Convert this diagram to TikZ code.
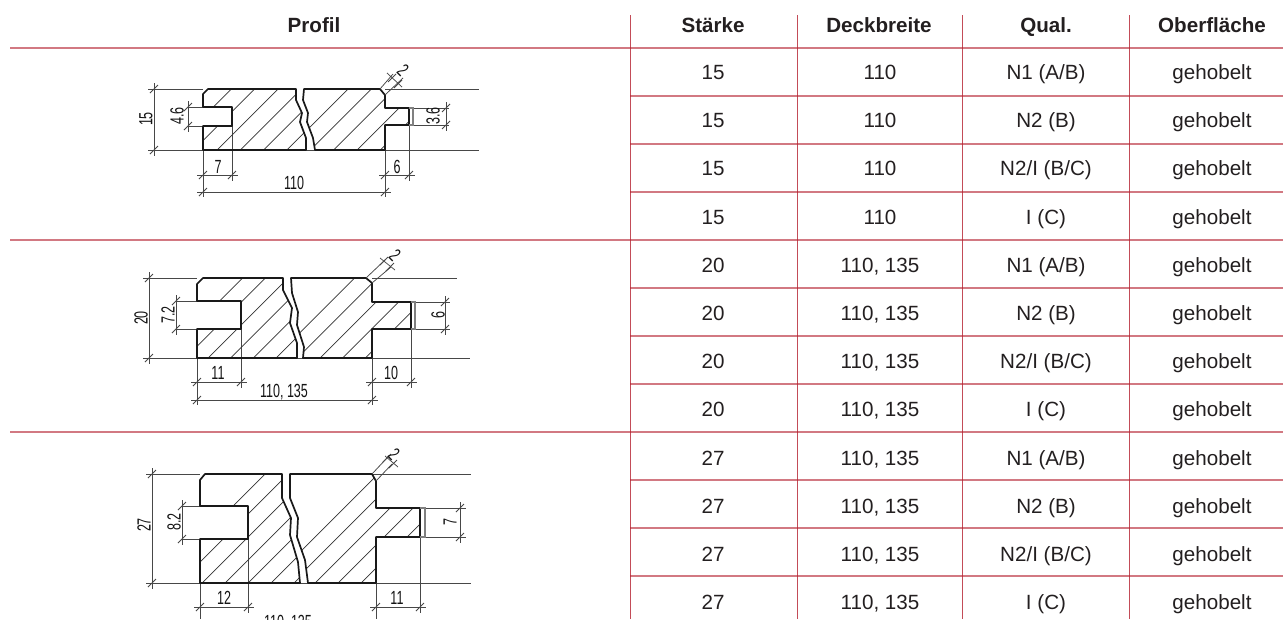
\documentclass[tikz,border=0pt]{standalone}
\usepackage{fontspec}
\setmainfont{Liberation Sans}
\newfontfamily\dimfont[FakeStretch=0.66]{Liberation Sans}
\definecolor{rulered}{HTML}{B5202F}
\definecolor{ink}{HTML}{231F20}
\tikzset{
  rulev/.style={draw=rulered,line width=1pt,opacity=.8},
  ruleh/.style={draw=rulered,line width=1.3pt,opacity=.6},
  cell/.style={font=\fontsize{20.6}{24}\selectfont,text=ink,inner sep=0pt,anchor=base},
  headcell/.style={cell,font=\fontsize{20.6}{24}\selectfont\bfseries},
  outline/.style={draw=black!90,line width=1.7pt,line join=round},
  hatchline/.style={draw=black!80,line width=0.7pt},
  dimline/.style={draw=black!72,line width=0.75pt},
  tongue/.style={draw=black!50,line width=1.1pt},
  dimlabel/.style={font=\dimfont\fontsize{19}{22}\selectfont,text=black!92,inner sep=0pt,anchor=center},
  vlabel/.style={dimlabel,rotate=90},
}
% tick at a dimension end
\newcommand{\dimtick}[2]{\draw[dimline] ({#1-4},{#2+4}) -- ({#1+4},{#2-4});}
\newcommand{\dimh}[3]{\draw[dimline] ({#1-6},#3) -- ({#2+6},#3); \dimtick{#1}{#3}\dimtick{#2}{#3}}
\newcommand{\dimv}[3]{\draw[dimline] (#1,{#2-6}) -- (#1,{#3+6}); \dimtick{#1}{#2}\dimtick{#1}{#3}}
% #1 path, #2 x+y constant, #3 spacing, #4 top, #5 bottom, #6 count
\newcommand{\hatched}[6]{%
  \begin{scope}
    \clip #1;
    \foreach \n in {0,...,#6}{
      \draw[hatchline] ({#2-#5+\n*#3-#3*2},#5) -- ({#2-#4+\n*#3-#3*2},#4);
    }
  \end{scope}
  \draw[outline] #1;
}
\begin{document}
\begin{tikzpicture}[x=1pt,y=-1pt]
\useasboundingbox (0,0) rectangle (1283,619);
\clip (0,0) rectangle (1283,619);
\fill[white] (0,0) rectangle (1283,619);

% table rules
\foreach \x in {630,797,962.7,1129.5}{\draw[rulev] (\x,15) -- (\x,619);}
\foreach \y in {48,240,432}{\draw[ruleh] (10,\y) -- (1283,\y);}
\foreach \y in {96,144,192,288,336,384,480,528,576}{\draw[ruleh] (630,\y) -- (1283,\y);}

% header
\node[headcell] (hprofil) at (314,32.5) {Profil};
\node[headcell] (hstaerke) at (713,32.5) {Stärke};
\node[headcell] (hdeck) at (879,32.5) {Deckbreite};
\node[headcell] (hqual) at (1046,32.5) {Qual.};
\node[headcell] (hober) at (1212,32.5) {Oberfläche};

% body
\foreach \y/\s/\d/\q in {
  79.5/15/{110}/{N1 (A/B)},127.5/15/{110}/{N2 (B)},175.5/15/{110}/{N2/I (B/C)},224/15/{110}/{I (C)},
  272.5/20/{110, 135}/{N1 (A/B)},320.5/20/{110, 135}/{N2 (B)},368.5/20/{110, 135}/{N2/I (B/C)},416.5/20/{110, 135}/{I (C)},
  465/27/{110, 135}/{N1 (A/B)},513/27/{110, 135}/{N2 (B)},561/27/{110, 135}/{N2/I (B/C)},609/27/{110, 135}/{I (C)}}{
  \node[cell] (s\y) at (713,\y) {\s};
  \node[cell] (d\y) at (880,\y) {\d};
  \node[cell] (q\y) at (1046,\y) {\q};
  \node[cell] (o\y) at (1212,\y) {gehobelt};
}

% ===== profile 15 =====
\draw[dimline] (148,89) -- (203,89) (385,89) -- (479,89) (148,150) -- (479,150);
\draw[dimline] (188,107) -- (203,107) (188,126) -- (203,126);
\draw[dimline] (413,108) -- (449,108) (413,125) -- (449,125);
\draw[dimline] (203,150) -- (203,197) (232,126) -- (232,181) (385,150) -- (385,197) (409,125) -- (409,181);
\hatched{(203,94) -- (208,89) -- (296,89) -- (296,100) -- (302,113) -- (300,122) -- (306,138) -- (306,150) -- (203,150) -- (203,126) -- (232,126) -- (232,107) -- (203,107) -- cycle}{367}{23.3}{89}{150}{8}
\hatched{(304,89) -- (303,100) -- (308,113) -- (307,122) -- (313,138) -- (315,150) -- (385,150) -- (385,125) -- (409,125) -- (409,108) -- (385,108) -- (385,95) -- (380,89) -- cycle}{483.7}{23.3}{89}{150}{8}
\draw[tongue] (409,108) -- (413,108) -- (413,125) -- (409,125);
\dimv{154}{89}{150}
\dimv{188}{107}{126}
\dimv{446}{108}{125}
\dimh{203}{232}{175}
\dimh{385}{409}{175}
\dimh{203}{385}{192}
\draw[dimline] (385,95) -- (403,78) (380,89) -- (393,74) (387,73) -- (402,87);
\dimtick{392}{78}\dimtick{398}{84}
\node[vlabel] (a15) at (146,119) {15};
\node[vlabel] (a46) at (177,116) {4.6};
\node[vlabel] (a36) at (433,116) {3.6};
\node[dimlabel] (a7) at (218,167) {7};
\node[dimlabel] (a6) at (397,167) {6};
\node[dimlabel] (a110) at (294,183) {110};
\node[dimlabel,rotate=-45] (a2) at (403,70) {2};

% ===== profile 20 =====
\draw[dimline] (143,278) -- (197,278) (372,278) -- (457,278) (143,358) -- (470,358);
\draw[dimline] (176,301) -- (197,301) (176,329) -- (197,329);
\draw[dimline] (415,302) -- (450,302) (415,329) -- (450,329);
\draw[dimline] (197,358) -- (197,405) (241,329) -- (241,388) (372,358) -- (372,405) (411,329) -- (411,388);
\hatched{(197,284) -- (203,278) -- (283,278) -- (283,290) -- (292,308) -- (290,323) -- (297,343) -- (297,358) -- (197,358) -- (197,329) -- (241,329) -- (241,301) -- (197,301) -- cycle}{566}{22.7}{278}{358}{9}
\hatched{(291,278) -- (292,293) -- (298,312) -- (297,325) -- (304,347) -- (303,358) -- (372,358) -- (372,329) -- (411,329) -- (411,302) -- (372,302) -- (372,283) -- (366,278) -- cycle}{678}{22.7}{278}{358}{9}
\draw[tongue] (411,302) -- (415,302) -- (415,329) -- (411,329);
\dimv{149}{278}{358}
\dimv{176}{301}{329}
\dimv{445}{302}{329}
\dimh{197}{241}{382}
\dimh{372}{411}{382}
\dimh{197}{372}{400}
\draw[dimline] (372,283) -- (391,267) (366,278) -- (385,260) (380,258) -- (395,270);
\dimtick{384}{261}\dimtick{390}{267}
\node[vlabel] (b20) at (141,318) {20};
\node[vlabel] (b72) at (168,315) {7.2};
\node[vlabel] (b6) at (438,315) {6};
\node[dimlabel] (b11) at (218,373) {11};
\node[dimlabel] (b10) at (391,373) {10};
\node[dimlabel] (b110) at (284,392) {110, 135};
\node[dimlabel,rotate=-45] (b2) at (395,255) {2};

% ===== profile 27 =====
\draw[dimline] (146,474) -- (200,474) (372,474) -- (471,474) (146,583) -- (471,583);
\draw[dimline] (182,506) -- (200,506) (182,539) -- (200,539);
\draw[dimline] (425,508) -- (466,508) (425,537) -- (466,537);
\draw[dimline] (200,583) -- (200,619) (248,539) -- (248,613) (376,583) -- (376,619) (420,537) -- (420,613);
\hatched{(200,480) -- (205,474) -- (282,474) -- (282,498) -- (291,518) -- (290,535) -- (298,562) -- (300,583) -- (200,583) -- (200,539) -- (248,539) -- (248,506) -- (200,506) -- cycle}{785}{23}{474}{583}{10}
\hatched{(290,474) -- (290,498) -- (298,518) -- (297,537) -- (305,560) -- (308,583) -- (376,583) -- (376,537) -- (420,537) -- (420,508) -- (376,508) -- (376,481) -- (372,474) -- cycle}{898}{23}{474}{583}{10}
\draw[tongue] (420,508) -- (425,508) -- (425,537) -- (420,537);
\dimv{152}{474}{583}
\dimv{182}{506}{539}
\dimv{460}{508}{537}
\dimh{200}{248}{607}
\dimh{376}{420}{607}
\draw[dimline] (376,481) -- (392,464) (372,474) -- (386,459) (385,456) -- (398,467);
\dimtick{387}{458}\dimtick{393}{464}
\node[vlabel] (c27) at (144,525) {27};
\node[vlabel] (c82) at (174,522) {8.2};
\node[vlabel] (c7) at (450,522) {7};
\node[dimlabel] (c12) at (224,598) {12};
\node[dimlabel] (c11) at (397,598) {11};
\node[dimlabel] (c110) at (288,623) {110, 135};
\node[dimlabel,rotate=-45] (c2) at (394,454) {2};
\end{tikzpicture}
\end{document}
